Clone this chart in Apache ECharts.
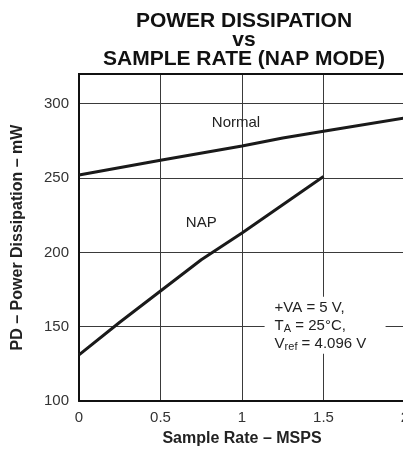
<!DOCTYPE html>
<html><head><meta charset="utf-8">
<script src="https://cdn.jsdelivr.net/npm/echarts@6/dist/echarts.min.js"></script>
<style>html,body{margin:0;padding:0;background:#fff}#c{width:403px;height:453px}</style>
</head><body><div id="c"></div>
<script>
const titleLines = ['POWER DISSIPATION', 'vs', 'SAMPLE RATE (NAP MODE)'];
const xTicks = [0, 0.5, 1, 1.5, 2];
const yTicks = [100, 150, 200, 250, 300];
const normalX = [0, 0.5, 1, 1.25, 1.5, 2];
const normalY = [252, 262, 271.5, 277, 281.5, 290.5];
const napX = [0, 0.25, 0.5, 0.75, 1, 1.25, 1.5];
const napY = [131, 153, 174, 195, 213, 232, 251];
const xName = 'Sample Rate – MSPS';
const yName = 'PD – Power Dissipation – mW';

const F = '"Liberation Sans", Arial, sans-serif';
const chart = echarts.init(document.getElementById('c'), null, {renderer: 'canvas'});
const lineStyle = {color: '#1a1a1a', width: 3};
chart.setOption({
  animation: false,
  title: {
    text: titleLines.join('\n'), left: 239, top: 7, textAlign: 'center',
    textStyle: {fontFamily: F, fontWeight: 'bold', fontSize: 21, lineHeight: 19, color: '#111'}
  },
  grid: {left: 79, top: 74, width: 326, height: 327, show: false, outerBoundsMode: 'none', containLabel: false},
  xAxis: {
    type: 'value', min: 0, max: 2, interval: 0.5,
    name: xName, nameLocation: 'middle', nameGap: 30,
    nameTextStyle: {fontFamily: F, fontWeight: 'bold', fontSize: 16, color: '#222'},
    axisLine: {show: true, onZero: false, lineStyle: {color: '#111', width: 2}},
    axisTick: {show: false},
    axisLabel: {fontFamily: F, fontSize: 15, color: '#333', margin: 9,
      formatter: v => (xTicks.indexOf(v) >= 0 ? String(v) : '')},
    splitLine: {show: true, lineStyle: {color: '#3a3a3a', width: 1}}
  },
  yAxis: {
    type: 'value', min: 100, max: 320, interval: 50,
    name: yName, nameLocation: 'middle', nameGap: 53,
    nameTextStyle: {fontFamily: F, fontWeight: 'bold', fontSize: 16, color: '#222'},
    axisLine: {show: true, onZero: false, lineStyle: {color: '#111', width: 2}},
    axisTick: {show: false},
    axisLabel: {fontFamily: F, fontSize: 15, color: '#333', margin: 10, showMaxLabel: false,
      formatter: v => (yTicks.indexOf(v) >= 0 ? String(v) : '')},
    splitLine: {show: true, lineStyle: {color: '#3a3a3a', width: 1}}
  },
  series: [
    {type: 'line', name: 'Normal', data: normalX.map((x, i) => [x, normalY[i]]), showSymbol: false, symbol: 'none', lineStyle, z: 5},
    {type: 'line', name: 'NAP', data: napX.map((x, i) => [x, napY[i]]), showSymbol: false, symbol: 'none', lineStyle, z: 5}
  ]
});

const topY = chart.convertToPixel({gridIndex: 0}, [0, 320])[1];
const leftX = chart.convertToPixel({gridIndex: 0}, [0, 100])[0];
const rightX = chart.convertToPixel({gridIndex: 0}, [2, 100])[0];
const pN = chart.convertToPixel({gridIndex: 0}, [1, 285]);
const pA = chart.convertToPixel({gridIndex: 0}, [0.75, 221]);
const pT = chart.convertToPixel({gridIndex: 0}, [1.2, 150]);
chart.setOption({
  graphic: [
    {type: 'line', shape: {x1: leftX - 1, y1: topY, x2: rightX, y2: topY}, style: {stroke: '#111', lineWidth: 2}, z: 10},
    {type: 'text', x: pN[0] - 6, y: pN[1] - 3, style: {text: 'Normal', font: '15px ' + F, fill: '#222', align: 'center', verticalAlign: 'middle'}, z: 10},
    {type: 'text', x: pA[0] + 0, y: pA[1] + 2, style: {text: 'NAP', font: '15px ' + F, fill: '#222', align: 'center', verticalAlign: 'middle'}, z: 10},
    {type: 'rect', shape: {x: pT[0] - 10, y: pT[1] - 30, width: 121, height: 57}, style: {fill: '#fff'}, z: 8},
    {type: 'text', x: pT[0] + 0, y: pT[1] - 28, z: 10, style: {
      text: '+VA = 5 V,\nT{sub|A} = 25°C,\nV{sub|ref} = 4.096 V',
      fontFamily: F, fontSize: 15, fill: '#222', lineHeight: 18, verticalAlign: 'top',
      rich: {sub: {fontFamily: F, fontSize: 11, fill: '#222', verticalAlign: 'bottom', padding: [6, 0, 0, 0]}}
    }}
  ]
});
</script></body></html>
